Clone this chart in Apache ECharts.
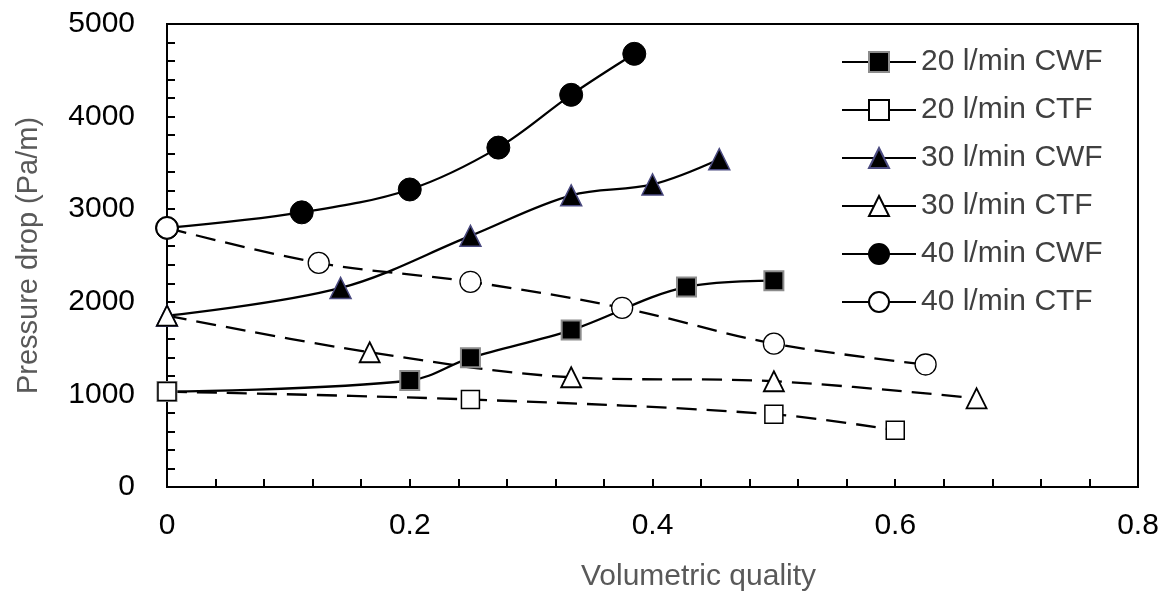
<!DOCTYPE html>
<html>
<head>
<meta charset="utf-8">
<script src="https://cdn.jsdelivr.net/npm/echarts@6/dist/echarts.min.js"></script>
<style>html,body{margin:0;padding:0;background:#fff}#c{width:1170px;height:597px}</style>
</head>
<body>
<div id="c"></div>
<script>
var seriesNames = ['20 l/min CWF','20 l/min CTF','30 l/min CWF','30 l/min CTF','40 l/min CWF','40 l/min CTF'];
var cwf20 = [[0,1030],[0.2,1150],[0.25,1395],[0.333,1695],[0.428,2160],[0.5,2228]];
var ctf20 = [[0,1030],[0.25,945],[0.5,785],[0.6,613]];
var cwf30 = [[0,1850],[0.143,2150],[0.25,2712],[0.333,3150],[0.4,3268],[0.455,3540]];
var ctf30 = [[0,1850],[0.167,1455],[0.333,1185],[0.5,1142],[0.667,957]];
var cwf40 = [[0,2798],[0.111,2966],[0.2,3213],[0.273,3665],[0.333,4235],[0.385,4678]];
var ctf40 = [[0,2798],[0.125,2420],[0.25,2216],[0.375,1935],[0.5,1548],[0.625,1323]];
var xTicks = {min:0, max:0.8, interval:0.2};
var yTicks = {min:0, max:5000, interval:1000};

var FONT = '"Liberation Sans", Arial, sans-serif';
var triPath = 'path://M50,0 L100,90 L0,90 Z';
function mk(name, data, symbol, size, fill, border, dashed, bw) {
  return {
    name: name, type: 'line', data: data, smooth: 0.35,
    symbol: symbol, symbolSize: size, showSymbol: true,
    lineStyle: {color: '#000', width: 2.3, type: dashed ? [20, 10] : 'solid'},
    itemStyle: {color: fill, borderColor: border, borderWidth: bw || 1.5, opacity: 1},
    emphasis: {disabled: true}
  };
}
var chart = echarts.init(document.getElementById('c'), null, {renderer: 'canvas'});
chart.setOption({
  animation: false,
  backgroundColor: '#fff',
  grid: {left: 167, right: 32, top: 24, bottom: 109, show: true, borderColor: '#000', borderWidth: 2, backgroundColor: 'transparent'},
  legend: {
    orient: 'vertical', left: 836, top: 42, itemGap: 18, itemWidth: 74, itemHeight: 25,
    data: seriesNames,
    textStyle: {fontFamily: FONT, fontSize: 30, color: '#404040'},
    lineStyle: {type: 'solid', width: 2, color: '#000'},
    selectedMode: false
  },
  xAxis: {
    type: 'value', min: xTicks.min, max: xTicks.max, interval: xTicks.interval,
    name: 'Volumetric quality', nameLocation: 'middle', nameGap: 75,
    nameTextStyle: {fontFamily: FONT, fontSize: 30, color: '#595959', padding: [0, 0, 0, 92]},
    axisLine: {show: true, onZero: false, lineStyle: {color: '#000', width: 2}},
    axisTick: {show: true, inside: true, length: 8, lineStyle: {color: '#000', width: 2}},
    minorTick: {show: true, splitNumber: 5, length: 8, lineStyle: {color: '#000', width: 2}},
    splitLine: {show: false},
    axisLabel: {fontFamily: FONT, fontSize: 30, color: '#000', margin: 24,
      formatter: function(v){ return String(+v.toFixed(2)); }}
  },
  yAxis: {
    type: 'value', min: yTicks.min, max: yTicks.max, interval: yTicks.interval,
    name: 'Pressure drop (Pa/m)', nameLocation: 'middle', nameGap: 124,
    nameTextStyle: {fontFamily: FONT, fontSize: 29, color: '#595959'},
    axisLine: {show: true, onZero: false, lineStyle: {color: '#000', width: 2}},
    axisTick: {show: true, inside: true, length: 8, lineStyle: {color: '#000', width: 2}},
    minorTick: {show: true, splitNumber: 5, length: 8, lineStyle: {color: '#000', width: 2}},
    splitLine: {show: false},
    axisLabel: {fontFamily: FONT, fontSize: 30, color: '#000', margin: 32,
      formatter: function(v){ return String(v); }}
  },
  series: [
    mk(seriesNames[0], cwf20, 'rect', 19, '#000', '#8c8c8c', false, 2),
    mk(seriesNames[1], ctf20, 'rect', 18, '#fff', '#000', true, 1.5),
    mk(seriesNames[2], cwf30, triPath, 21, '#000', '#4a4a80', false, 1.5),
    mk(seriesNames[3], ctf30, triPath, 20, '#fff', '#000', true, 1.8),
    mk(seriesNames[4], cwf40, 'circle', 23, '#000', '#000', false, 1),
    mk(seriesNames[5], ctf40, 'circle', 21, '#fff', '#000', true, 1.3)
  ]
});
</script>
</body>
</html>
